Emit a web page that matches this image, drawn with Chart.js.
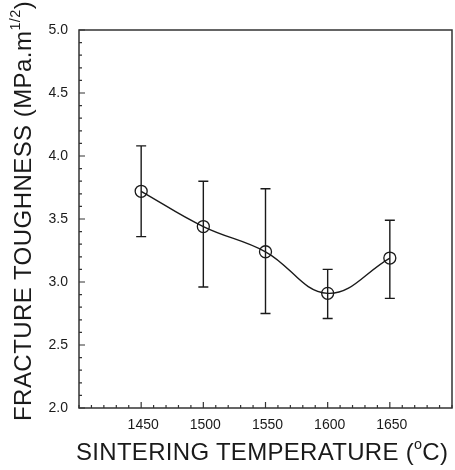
<!DOCTYPE html>
<html>
<head>
<meta charset="utf-8">
<script src="https://cdn.jsdelivr.net/npm/chart.js"></script>
<style>
  body { margin: 0; background: #fff; }
  #wrap { position: relative; width: 455px; height: 470px; }
  .title { position: absolute; font: 24px "Liberation Sans", Arial, sans-serif; color: #1a1a1a; line-height: 1; white-space: nowrap; }
  .title .sup { font-size: 60%; position: relative; top: -0.75em; }
  #xTitle { left: 76px; top: 440px; letter-spacing: 0.3px; }
  #yTitle { left: 0; top: 0; letter-spacing: 0.45px; transform-origin: 0 0; transform: translate(11px, 421px) rotate(-90deg); }
</style>
</head>
<body>
<div id="wrap">
  <canvas id="toughnessChart" width="455" height="470"></canvas>
  <div class="title" id="xTitle">SINTERING TEMPERATURE (<span class="sup">o</span>C)</div>
  <div class="title" id="yTitle">FRACTURE TOUGHNESS (MPa.m<span class="sup">1/2</span>)</div>
</div>
<script>
// data
const temperatures = [1450, 1500, 1550, 1600, 1650];
const toughness = [3.72, 3.44, 3.24, 2.91, 3.19];
const errorHigh = [4.08, 3.80, 3.74, 3.10, 3.49];
const errorLow = [3.36, 2.96, 2.75, 2.71, 2.87];
const xTickLabels = [1450, 1500, 1550, 1600, 1650];
const yTickLabels = ["2.0", "2.5", "3.0", "3.5", "4.0", "4.5", "5.0"];

const INK = "#1a1a1a";
const tickFont = { family: "'Liberation Sans Narrow', 'Liberation Sans', Arial, sans-serif", size: 14 };

// error bars under the curve
const errorBars = {
    id: "errorBars",
    beforeDatasetsDraw(chart) {
        const { ctx, scales: { x, y } } = chart;
        ctx.save();
        ctx.strokeStyle = INK;
        ctx.lineWidth = 1.4;
        temperatures.forEach((t, i) => {
            const px = x.getPixelForValue(t);
            const top = y.getPixelForValue(errorHigh[i]);
            const bot = y.getPixelForValue(errorLow[i]);
            ctx.beginPath();
            ctx.moveTo(px, top); ctx.lineTo(px, bot);
            ctx.moveTo(px - 5, top); ctx.lineTo(px + 5, top);
            ctx.moveTo(px - 5, bot); ctx.lineTo(px + 5, bot);
            ctx.stroke();
        });
        ctx.restore();
    }
};

// box frame and inward tick marks
const frame = {
    id: "frame",
    afterDraw(chart) {
        const { ctx, chartArea: a, scales: { x, y } } = chart;
        ctx.save();
        ctx.strokeStyle = "#333";
        ctx.lineWidth = 1.5;
        ctx.strokeRect(a.left, a.top, a.right - a.left, a.bottom - a.top);
        ctx.lineWidth = 1.2;
        ctx.beginPath();
        x.ticks.forEach(t => {
            const px = x.getPixelForValue(t.value);
            const len = xTickLabels.includes(t.value) ? 6 : 3;
            ctx.moveTo(px, a.bottom); ctx.lineTo(px, a.bottom - len);
        });
        y.ticks.forEach(t => {
            const py = y.getPixelForValue(t.value);
            const len = yTickLabels.includes(t.value.toFixed(1)) ? 6 : 3;
            ctx.moveTo(a.left, py); ctx.lineTo(a.left + len, py);
        });
        ctx.stroke();
        ctx.restore();
    }
};

new Chart(document.getElementById("toughnessChart"), {
    type: "line",
    data: {
        datasets: [{
            data: temperatures.map((t, i) => ({ x: t, y: toughness[i] })),
            borderColor: INK,
            borderWidth: 1.4,
            tension: 0.4,
            pointRadius: 6,
            pointBorderWidth: 1.3,
            pointBorderColor: INK,
            pointBackgroundColor: "rgba(255,255,255,0)"
        }]
    },
    options: {
        responsive: false,
        animation: false,
        layout: { autoPadding: false, padding: { top: 30, right: 3, left: 0, bottom: 0 } },
        plugins: { legend: { display: false }, tooltip: { enabled: false } },
        scales: {
            x: {
                type: "linear",
                min: 1400,
                max: 1700,
                grid: { display: false, drawTicks: false },
                border: { display: false },
                ticks: {
                    stepSize: 10,
                    autoSkip: false,
                    maxRotation: 0,
                    padding: 9,
                    labelOffset: 2,
                    color: INK,
                    font: tickFont,
                    callback: v => xTickLabels.includes(v) ? String(v) : ""
                },
                afterFit: s => { s.height = 62; s.paddingLeft = 0; s.paddingRight = 0; }
            },
            y: {
                min: 2,
                max: 5,
                grid: { display: false, drawTicks: false },
                border: { display: false },
                ticks: {
                    stepSize: 0.1,
                    autoSkip: false,
                    padding: 11,
                    color: INK,
                    font: tickFont,
                    callback: v => yTickLabels.includes(v.toFixed(1)) ? v.toFixed(1) : ""
                },
                afterFit: s => { s.width = 79; s.paddingTop = 0; s.paddingBottom = 0; }
            }
        }
    },
    plugins: [errorBars, frame]
});
</script>
</body>
</html>
